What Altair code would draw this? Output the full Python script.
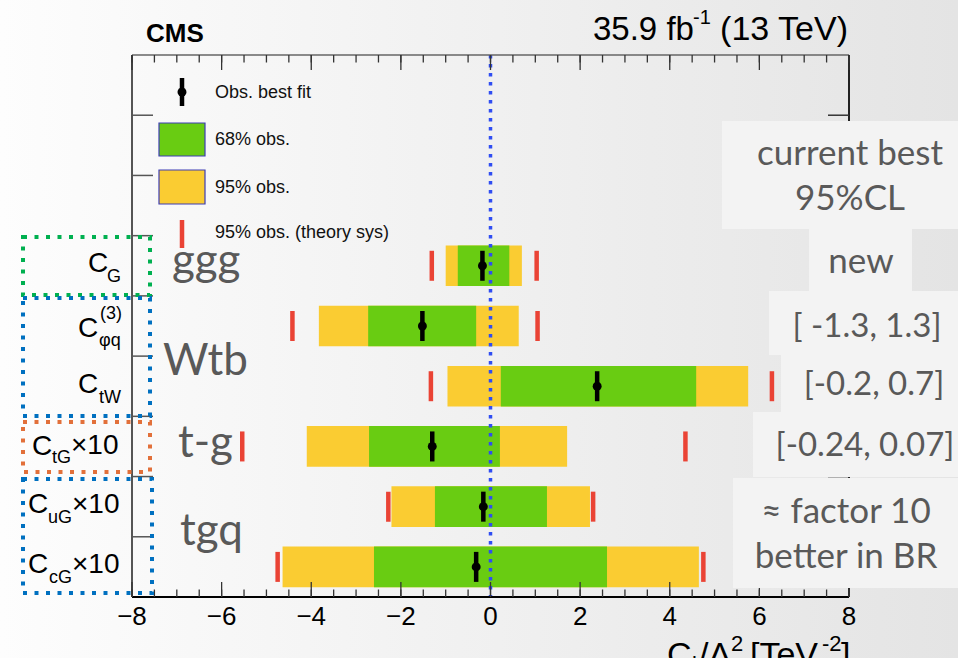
import altair as alt
import numpy as np
import pandas as pd

# ---- fitted Wilson coefficients, listed top to bottom ----
coefficients = ["C_G", "C_phiq3", "C_tW", "C_tG_x10", "C_uG_x10", "C_cG_x10"]
best_fit = [-0.18, -1.52, 2.38, -1.30, -0.16, -0.32]
lo68 = [-0.73, -2.73, 0.23, -2.71, -1.24, -2.60]
hi68 = [0.42, -0.32, 4.59, 0.21, 1.26, 2.60]
lo95 = [-1.00, -3.83, -0.96, -4.10, -2.21, -4.64]
hi95 = [0.70, 0.63, 5.75, 1.71, 2.22, 4.65]
lo95_theory = [-1.31, -4.42, -1.33, -5.54, -2.28, -4.75]
hi95_theory = [1.03, 1.05, 6.28, 4.35, 2.29, 4.75]

# empty rows at the top that hold the legend
legend_rows = ["legend_a", "legend_b", "legend_c"]

# axis ticks and their labels
x_major = [-8, -6, -4, -2, 0, 2, 4, 6, 8]
x_major_labels = [str(v).replace("-", "\u2212") for v in x_major]
x_minor = [float(v) for v in np.arange(-8, 8.01, 0.5)]

# ---- layout / style ----
W, H = 717, 542
PL, PT, PR, PB = 132, 55, 109, 61
SANS = "Liberation Sans"
HUMAN = "Lato"
GREEN = "#69cc12"
YELLOW = "#facc32"
RED = "#ea4335"
ZERO_BLUE = "#2f4df2"
SLIDE_GREY = "#595959"

data = pd.DataFrame(dict(coef=coefficients, best=best_fit, lo68=lo68, hi68=hi68,
                         lo95=lo95, hi95=hi95, lo_th=lo95_theory, hi_th=hi95_theory))

xs = alt.Scale(domain=[-8, 8], nice=False, zero=False)
ys = alt.Scale(domain=legend_rows + coefficients, paddingInner=0, paddingOuter=0)
Y = alt.Y("coef:N", scale=ys, axis=None)
ONE = pd.DataFrame({"k": [0]})


def txt(s, x, y, size, font=SANS, color="#000000", align="left",
        baseline="alphabetic", weight="normal"):
    return alt.Chart(ONE).mark_text(
        text=s, font=font, fontSize=size, color=color, align=align,
        baseline=baseline, fontWeight=weight
    ).encode(x=alt.value(x - PL), y=alt.value(y - PT))


def box(x1, y1, x2, y2, **style):
    return alt.Chart(ONE).mark_rect(**style).encode(
        x=alt.value(x1 - PL), x2=alt.value(x2 - PL),
        y=alt.value(y1 - PT), y2=alt.value(y2 - PT))


def seg(x1, y1, x2, y2, color, width, **style):
    return alt.Chart(ONE).mark_rule(color=color, strokeWidth=width, **style).encode(
        x=alt.value(x1), x2=alt.value(x2), y=alt.value(y1), y2=alt.value(y2))


layers = []

# slide background
layers.append(alt.Chart(ONE).mark_rect(
    fill=alt.LinearGradient(
        gradient="linear",
        stops=[alt.GradientStop(offset=0, color="#fdfdfd"),
               alt.GradientStop(offset=1, color="#e4e4e4")],
        x1=0, x2=1, y1=0, y2=0)
).encode(x=alt.value(-PL), x2=alt.value(W + PR), y=alt.value(-PT), y2=alt.value(H + PB)))

base = alt.Chart(data)

# 95% and 68% bands
layers.append(base.mark_bar(color=YELLOW, height={"band": 0.675}).encode(
    x=alt.X("lo95:Q", scale=xs, axis=None), x2="hi95:Q", y=Y))
layers.append(base.mark_bar(color=GREEN, height={"band": 0.675}).encode(
    x=alt.X("lo68:Q", scale=xs, axis=None), x2="hi68:Q", y=Y))

# 95% limits including theory systematics
layers.append(base.transform_fold(["lo_th", "hi_th"], as_=["side", "val"]).mark_tick(
    color=RED, size=30, thickness=4.5, opacity=1
).encode(x=alt.X("val:Q", scale=xs, axis=None), y=Y))

# best-fit markers
layers.append(base.mark_tick(color="#000000", size=30, thickness=4.5, opacity=1).encode(
    x=alt.X("best:Q", scale=xs, axis=None), y=Y))
layers.append(base.mark_point(filled=True, size=80, color="#000000", opacity=1).encode(
    x=alt.X("best:Q", scale=xs, axis=None), y=Y))

# SM expectation
layers.append(alt.Chart(pd.DataFrame({"v": [0]})).mark_rule(
    color=ZERO_BLUE, strokeWidth=3.5, strokeDash=[3.5, 5.5]
).encode(x=alt.X("v:Q", scale=xs, axis=None)))

# frame
layers.append(seg(0, H, W, H, "#000000", 2))
layers.append(seg(0, 0, 0, H, "#555555", 2))
layers.append(seg(0, 0, W, 0, "#666666", 1.5))
layers.append(seg(W, 0, W, H, "#222222", 2))


# inward x ticks, bottom and top
def xticks(vals, y0, y1):
    return alt.Chart(pd.DataFrame({"v": vals})).mark_rule(color="#333333", strokeWidth=1.3).encode(
        x=alt.X("v:Q", scale=xs, axis=None), y=alt.value(y0), y2=alt.value(y1))


layers += [xticks(x_minor, H, H - 7.5), xticks(x_major, H, H - 15),
           xticks(x_minor, 0, 7.5), xticks(x_major, 0, 15)]

# x tick labels
layers.append(alt.Chart(pd.DataFrame({"v": x_major, "lab": x_major_labels})).mark_text(
    font=SANS, fontSize=26, color="#000000", baseline="alphabetic", align="center"
).encode(x=alt.X("v:Q", scale=xs, axis=None), y=alt.value(H + 28), text="lab:N"))

# inward y ticks at the row boundaries
ytick_df = pd.DataFrame({"coef": (legend_rows + coefficients)[1:]})
YB = alt.Y("coef:N", scale=ys, axis=None, bandPosition=0)
layers.append(alt.Chart(ytick_df).mark_rule(color="#555555", strokeWidth=1.5).encode(
    y=YB, x=alt.value(0), x2=alt.value(21)))
layers.append(alt.Chart(ytick_df).mark_rule(color="#333333", strokeWidth=1.5).encode(
    y=YB, x=alt.value(W - 21), x2=alt.value(W)))

# legend
layers.append(seg(182 - PL, 78 - PT, 182 - PL, 106 - PT, "#000000", 4.5))
layers.append(alt.Chart(ONE).mark_point(filled=True, size=80, color="#000000", opacity=1).encode(
    x=alt.value(182 - PL), y=alt.value(92 - PT)))
layers.append(box(159, 123, 205, 156, fill=GREEN, stroke="#3c3cb4", strokeWidth=1.2))
layers.append(box(159, 170, 205, 204, fill=YELLOW, stroke="#3c3cb4", strokeWidth=1.2))
layers.append(seg(182 - PL, 220 - PT, 182 - PL, 248 - PT, RED, 4.5))
for label, yy in [("Obs. best fit", 93), ("68% obs.", 140), ("95% obs.", 188),
                  ("95% obs. (theory sys)", 233)]:
    layers.append(txt(label, 215, yy, 18, color="#111111", baseline="middle"))

# process groups
for label, xx, yy in [("ggg", 172, 275), ("Wtb", 163, 375), ("t-g", 178, 457), ("tgq", 180, 545)]:
    layers.append(txt(label, xx, yy, 44, font=HUMAN, color=SLIDE_GREY))

# dotted frames around the operator names
DOT = dict(fillOpacity=0, strokeWidth=4, strokeDash=[4, 7.5])
layers.append(box(23, 237, 150, 295, stroke="#00b050", **DOT))
layers.append(box(23, 298, 150, 416, stroke="#0070c0", **DOT))
layers.append(box(23, 422, 150, 472, stroke="#e2703a", **DOT))
layers.append(box(23, 479, 152, 593, stroke="#0070c0", **DOT))

# operator names
MAIN, SUB = 28, 18
name_parts = [
    ("C", 88, 272, MAIN), ("G", 107, 282, SUB),
    ("C", 78, 337, MAIN), ("(3)", 100, 319, SUB), ("\u03c6q", 99, 346, SUB),
    ("C", 78, 393, MAIN), ("tW", 99, 403, SUB),
    ("C", 32, 455, MAIN), ("tG", 52, 463, SUB), ("\u00d710", 71, 454, MAIN),
    ("C", 28, 513, MAIN), ("uG", 48, 523, SUB), ("\u00d710", 72, 513, MAIN),
    ("C", 28, 573, MAIN), ("cG", 49, 583, SUB), ("\u00d710", 72, 573, MAIN),
]
for s, xx, yy, size in name_parts:
    layers.append(txt(s, xx, yy, size))

# comparison with previous limits
PANEL = "#f3f3f3"
for x1, y1, x2, y2 in [(722, 121, 958, 229), (809, 229, 912, 291), (769, 291, 958, 355),
                       (781, 355, 958, 412), (753, 412, 958, 477), (733, 478, 958, 588)]:
    layers.append(box(x1, y1, x2, y2, fill=PANEL))
for s, xx, yy, size in [("current best", 850, 165, 35), ("95%CL", 850, 210, 35),
                        ("new", 861, 273, 35),
                        ("[ -1.3, 1.3]", 867, 337, 33), ("[-0.2, 0.7]", 874, 395, 33),
                        ("[-0.24, 0.07]", 865, 456, 33), ("\u2248 factor 10", 846, 523, 35),
                        ("better in BR", 846, 568, 35)]:
    layers.append(txt(s, xx, yy, size, font=HUMAN, color=SLIDE_GREY, align="center"))

# header
layers.append(txt("CMS", 146, 42, 26, weight="bold"))
layers.append(txt("35.9 fb", 593, 40, 33))
layers.append(txt("-1", 693, 24, 20))
layers.append(txt("(13 TeV)", 848, 40, 34, align="right"))

# x-axis title
for s, xx, yy, size in [("C", 667, 666, 34), ("i", 692, 672, 22), ("/\u039b", 699, 666, 34),
                        ("2", 731, 651, 22), ("[TeV", 750, 666, 34), ("-2", 822, 651, 22),
                        ("]", 841, 666, 34)]:
    layers.append(txt(s, xx, yy, size))

chart = alt.layer(*layers).properties(
    width=W, height=H,
    padding={"left": PL, "top": PT, "right": PR, "bottom": PB},
    autosize=alt.AutoSizeParams(type="none"),
    background="#f4f4f4",
).configure_view(strokeWidth=0)

chart.save("out.html", embed_options={"renderer": "svg", "actions": False})
